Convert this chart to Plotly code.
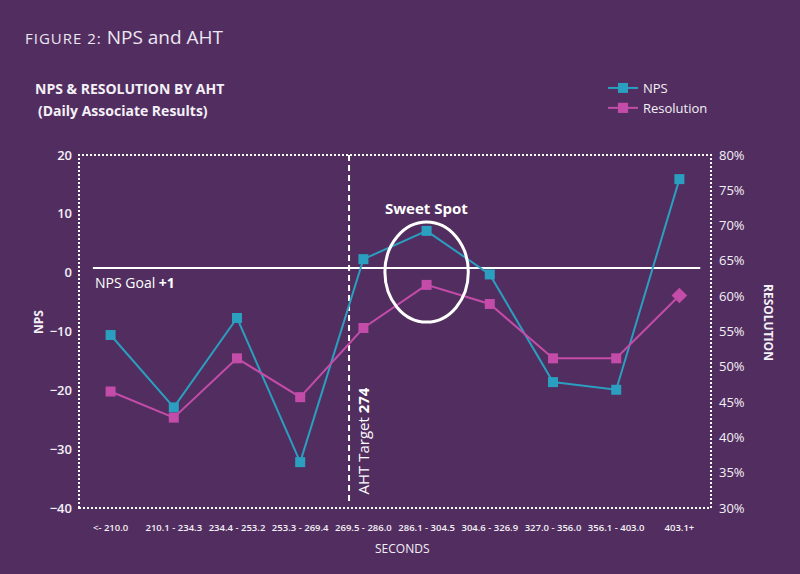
import plotly.graph_objects as go

# ---- data ----
categories = ["<- 210.0", "210.1 - 234.3", "234.4 - 253.2", "253.3 - 269.4",
              "269.5 - 286.0", "286.1 - 304.5", "304.6 - 326.9", "327.0 - 356.0",
              "356.1 - 403.0", "403.1+"]
bin_low = [None, 210.1, 234.4, 253.3, 269.5, 286.1, 304.6, 327.0, 356.1, 403.1]
bin_high = [210.0, 234.3, 253.2, 269.4, 286.0, 304.5, 326.9, 356.0, 403.0, None]
nps = [-10.6, -22.9, -7.7, -32.2, 2.3, 7.1, -0.3, -18.6, -19.9, 15.9]
resolution = [46.5, 42.8, 51.2, 45.7, 55.5, 61.6, 58.9, 51.2, 51.2, 60.1]
nps_ticks = [-40, -30, -20, -10, 0, 10, 20]
res_ticks = [30, 35, 40, 45, 50, 55, 60, 65, 70, 75, 80]
res_tick_labels = [f"{v}%" for v in res_ticks]
NPS_GOAL = 0.8
AHT_TARGET = 274
SWEET_SPOT = "286.1 - 304.5"

BG = "#522e60"
TEAL = "#2a9fbf"
PINK = "#c34ca8"
WHITE = "#ffffff"
TXT = "#f4f0f7"
FONT = "Open Sans"

xs = list(range(len(categories)))

# position of AHT target on the category axis
aht_x = None
for i in range(len(categories)):
    lo, hi = bin_low[i], bin_high[i]
    if lo is not None and hi is not None and lo <= AHT_TARGET <= hi:
        aht_x = i - 0.5 + (AHT_TARGET - lo) / (hi - lo)
sweet_x = categories.index(SWEET_SPOT)

res_symbols = ["square"] * (len(resolution) - 1) + ["diamond"]
res_sizes = [10] * (len(resolution) - 1) + [12]

fig = go.Figure()
fig.add_trace(go.Scatter(
    x=xs, y=nps, name="NPS", mode="lines+markers",
    line=dict(color=TEAL, width=2),
    marker=dict(symbol="square", size=10, color=TEAL, line=dict(width=0)),
    yaxis="y"))
fig.add_trace(go.Scatter(
    x=xs, y=resolution, name="Resolution", mode="lines+markers",
    line=dict(color=PINK, width=2),
    marker=dict(symbol=res_symbols, size=res_sizes, color=PINK,
                line=dict(width=0, color=PINK), opacity=1),
    yaxis="y2"))

L, R, T, B = 79, 89, 155, 66
PW, PH = 800 - L - R, 574 - T - B


def px(x):
    return (x - L) / PW


def py(y):
    return (574 - B - y) / PH


fig.update_layout(
    width=800, height=574,
    margin=dict(l=L, r=R, t=T, b=B),
    paper_bgcolor=BG, plot_bgcolor=BG,
    font=dict(family=FONT, color=WHITE),
    showlegend=True,
    legend=dict(x=px(603), y=py(73), xanchor="left", yanchor="top",
                bgcolor="rgba(0,0,0,0)", font=dict(size=13, color=TXT),
                itemwidth=30, tracegroupgap=0),
    xaxis=dict(range=[-0.5, len(categories) - 0.5], tickmode="array",
               tickvals=xs, ticktext=categories, showgrid=False,
               zeroline=False, showline=False, ticks="", ticklabelstandoff=12,
               tickfont=dict(size=9.5, color=TXT, family=FONT, weight=600)),
    yaxis=dict(range=[-40, 20], tickmode="array", tickvals=nps_ticks, showgrid=False,
               zeroline=False, showline=False, ticks="", ticklabelstandoff=6,
               tickfont=dict(size=13, color=TXT, family=FONT, weight=600)),
    yaxis2=dict(range=[30, 80], tickmode="array", tickvals=res_ticks,
                ticktext=res_tick_labels,
                overlaying="y", side="right", showgrid=False,
                zeroline=False, showline=False, ticks="", ticklabelstandoff=7,
                tickfont=dict(size=13, color=TXT, family=FONT)),
)

shapes = [
    # dotted plot frame
    dict(type="rect", xref="paper", yref="paper", x0=0, x1=1, y0=0, y1=1,
         line=dict(color=WHITE, width=2, dash="2px,2px"), layer="below"),
    # NPS goal line
    dict(type="line", xref="x", yref="y", x0=-0.28, x1=9.33,
         y0=NPS_GOAL, y1=NPS_GOAL, line=dict(color=WHITE, width=2), layer="below"),
    # AHT target line
    dict(type="line", xref="x", yref="paper", x0=aht_x, x1=aht_x, y0=0.02, y1=1,
         line=dict(color=WHITE, width=2, dash="6px,4px"), layer="below"),
    # sweet spot ellipse
    dict(type="circle", xref="x", yref="y", x0=sweet_x - 0.66, x1=sweet_x + 0.66,
         y0=-8.4, y1=8.6, line=dict(color=WHITE, width=3)),
]
fig.update_layout(shapes=shapes)

annotations = [
    dict(text="<span style='font-size:15px;letter-spacing:1px'>FIGURE 2: </span>NPS and AHT",
         xref="paper", yref="paper", x=px(23), y=py(37), xanchor="left", yanchor="middle",
         showarrow=False, font=dict(size=19, color="#ece6f2", family=FONT)),
    dict(text="<b>NPS &amp; RESOLUTION BY AHT</b>",
         xref="paper", yref="paper", x=px(33), y=py(88), xanchor="left", yanchor="middle",
         showarrow=False, font=dict(size=14, color=TXT, family=FONT)),
    dict(text="<b>(Daily Associate Results)</b>",
         xref="paper", yref="paper", x=px(36), y=py(110), xanchor="left", yanchor="middle",
         showarrow=False, font=dict(size=14, color=TXT, family=FONT)),
    dict(text="<b>NPS</b>", textangle=-90,
         xref="paper", yref="paper", x=px(38), y=py(322), xanchor="center", yanchor="middle",
         showarrow=False, font=dict(size=12, color=TXT, family=FONT)),
    dict(text="<b>RESOLUTION</b>", textangle=90,
         xref="paper", yref="paper", x=px(769), y=py(322), xanchor="center", yanchor="middle",
         showarrow=False, font=dict(size=12, color=TXT, family=FONT)),
    dict(text="SECONDS",
         xref="paper", yref="paper", x=px(402), y=py(548), xanchor="center", yanchor="middle",
         showarrow=False, font=dict(size=12, color=TXT, family=FONT)),
    dict(text="<b>Sweet Spot</b>",
         xref="x", yref="y", x=sweet_x, y=11, xanchor="center", yanchor="middle",
         showarrow=False, font=dict(size=15, color=WHITE, family=FONT)),
    dict(text="NPS Goal <b>+1</b>",
         xref="x", yref="y", x=-0.28, y=-1.6, xanchor="left", yanchor="middle",
         showarrow=False, font=dict(size=14, color=WHITE, family=FONT)),
    dict(text="AHT Target <b>274</b>", textangle=-90,
         xref="x", yref="paper", x=aht_x, xshift=13, y=py(497),
         xanchor="center", yanchor="bottom",
         showarrow=False, font=dict(size=15, color=WHITE, family=FONT)),
]
fig.update_layout(annotations=annotations)

fig.write_html("out.html")
